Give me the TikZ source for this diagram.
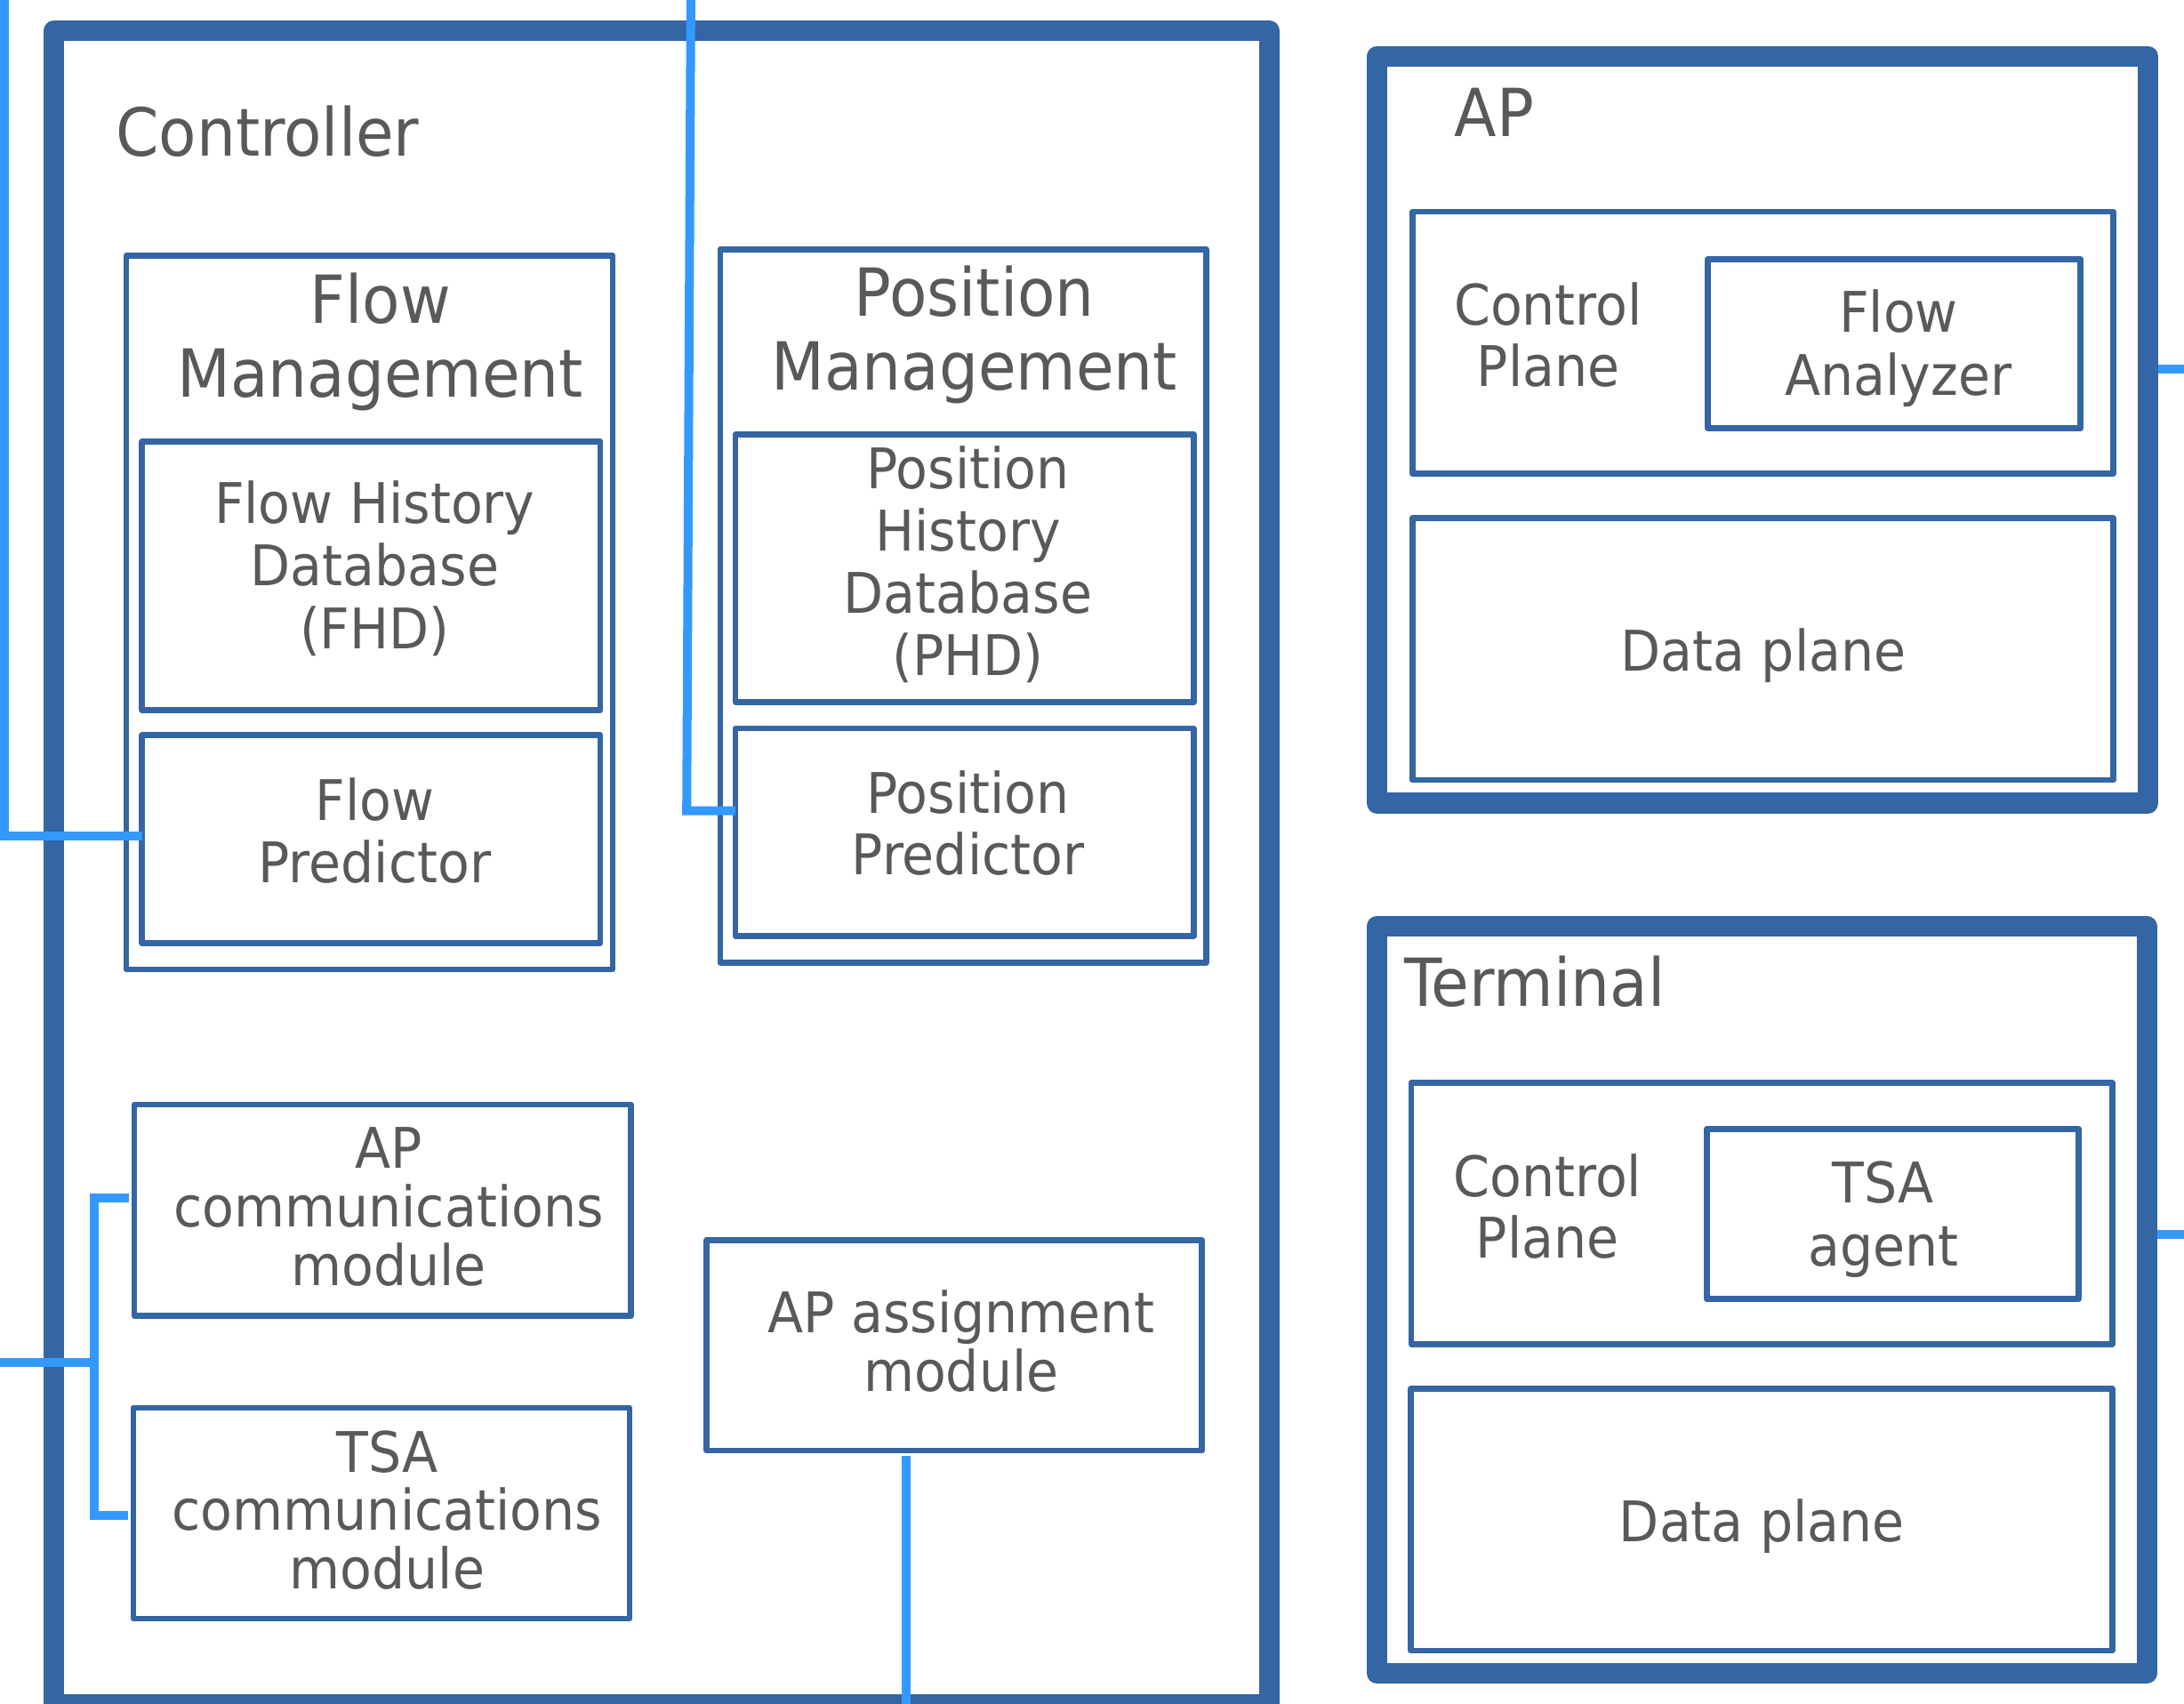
\documentclass[tikz,border=0pt]{standalone}
\usepackage{fontspec}
\setmainfont{DejaVu Sans}[FakeStretch=0.93]
\usetikzlibrary{fit,calc}
\definecolor{boxblue}{RGB}{52,101,164}
\definecolor{linkblue}{RGB}{51,153,255}
\definecolor{labelgray}{RGB}{89,89,89}
\begin{document}
\begin{tikzpicture}[x=1pt,y=1pt,
  frame/.style={draw=boxblue, line width=14.7pt, line join=round, inner sep=0pt, outer sep=0pt},
  block/.style={draw=boxblue, line width=4.2pt, line join=round, inner sep=0pt, outer sep=0pt},
  conn/.style={draw=linkblue, line width=6.4pt},
  title/.style={text=labelgray, font=\fontsize{47.6}{53}\selectfont, inner sep=0pt, align=center},
  body/.style={text=labelgray, font=\fontsize{40.2}{45}\selectfont, inner sep=0pt, align=center},
]
\useasboundingbox (0,0) rectangle (1568,-1223);

% multi-line labels are placed by the baseline of their last line

% ---------- Controller ----------
\node[frame, fit={(38.5,-22.3) (911.5,-1223.5)}] (ctrl) {};
\node[title, anchor=base west] (ctrl-t) at (83,-112) {Controller};

\node[block, fit={(90.7,-183.5) (440,-696)}] (fm) {};
\node[title, anchor=base] (fm-t) at (273,-285) {Flow\\Management};
\node[block, fit={(102,-317) (431,-509.8)}] (fhd) {};
\node[body, anchor=base] (fhd-t) at (269,-465.7) {Flow History\\Database\\(FHD)};
\node[block, fit={(102,-527.7) (431,-677)}] (fp) {};
\node[body, anchor=base] (fp-t) at (269,-633.7) {Flow\\Predictor};

\node[block, fit={(517,-179) (866,-691)}] (pm) {};
\node[title, anchor=base] (pm-t) at (699.5,-280) {Position\\Management};
\node[block, fit={(528,-312) (857,-504)}] (phd) {};
\node[body, anchor=base, font=\fontsize{40.2}{44.7}\selectfont] (phd-t) at (695,-484.8) {Position\\History\\Database\\(PHD)};
\node[block, fit={(528,-523) (857,-672)}] (pp) {};
\node[body, anchor=base, font=\fontsize{40.2}{44}\selectfont] (pp-t) at (695,-627.7) {Position\\Predictor};

\node[block, fit={(96.4,-793) (452.9,-944.5)}] (apc) {};
\node[body, anchor=base, font=\fontsize{40.2}{42}\selectfont] (apc-t) at (279,-922.7) {AP\\communications\\module};
\node[block, fit={(95.8,-1010.6) (452,-1162)}] (tsac) {};
\node[body, anchor=base, font=\fontsize{40.2}{42}\selectfont] (tsac-t) at (278,-1140.7) {TSA\\communications\\module};
\node[block, fit={(507.3,-890.3) (863,-1041.3)}] (apa) {};
\node[body, anchor=base, font=\fontsize{40.2}{42}\selectfont] (apa-t) at (690,-998.7) {AP assignment\\module};

% ---------- AP ----------
\node[frame, fit={(988.5,-40.5) (1542.3,-576.5)}] (ap) {};
\node[title, anchor=base west] (ap-t) at (1044,-98) {AP};
\node[block, fit={(1014,-152) (1517.2,-340)}] (apcp) {};
\node[body, anchor=base, font=\fontsize{40.2}{44.1}\selectfont] (apcp-t) at (1111.5,-277.5) {Control\\Plane};
\node[block, fit={(1226,-186) (1493.6,-307.5)}] (fa) {};
\node[body, anchor=base] (fa-t) at (1363,-283.7) {Flow\\Analyzer};
\node[block, fit={(1014,-372) (1517.2,-560)}] (apdp) {};
\node[body, anchor=base] (apdp-t) at (1266,-481.7) {Data plane};

% ---------- Terminal ----------
\node[frame, fit={(988.3,-665) (1541.3,-1201)}] (term) {};
\node[title, anchor=base west] (term-t) at (1008,-722.7) {Terminal};
\node[block, fit={(1013.2,-777.3) (1516.5,-965)}] (tcp) {};
\node[body, anchor=base, font=\fontsize{40.2}{44.1}\selectfont] (tcp-t) at (1111,-902.8) {Control\\Plane};
\node[block, fit={(1225.4,-810.4) (1492.2,-932.6)}] (tsaa) {};
\node[body, anchor=base] (tsaa-t) at (1352,-908.7) {TSA\\agent};
\node[block, fit={(1013,-997) (1516.5,-1185)}] (tdp) {};
\node[body, anchor=base] (tdp-t) at (1265,-1106.7) {Data plane};

% ---------- connectors ----------
\coordinate (fp-top) at (2.9,1);
\coordinate (fp-bend) at (2.9,-600);
\draw[conn] (fp-top) -- (fp-bend) -- (fp-bend -| fp.west);

\coordinate (pp-top) at (496,1);
\coordinate (pp-bend) at (493,-582);
\draw[conn] (pp-top) -- (pp-bend) -- (pp-bend -| pp.west);

\coordinate (brk) at (67.8,-978);
\coordinate (brk-out) at (-1,-978);
\coordinate (apc-in) at (92.6,-859.7);
\coordinate (tsac-in) at (91.8,-1088);
\draw[conn] (apc-in) -| (brk) |- (tsac-in);
\draw[conn] (brk-out) -- (brk);

\coordinate (apa-out) at (650.3,-1225);
\draw[conn] ($(apa-out |- apa.south)+(0,-4)$) -- (apa-out);

\coordinate (ap-out) at (1569,-264.8);
\draw[conn] ($(ap-out -| ap.east)+(7.4,0)$) -- (ap-out);
\coordinate (term-out) at (1569,-886.2);
\draw[conn] ($(term-out -| term.east)+(7.4,0)$) -- (term-out);
\end{tikzpicture}
\end{document}
